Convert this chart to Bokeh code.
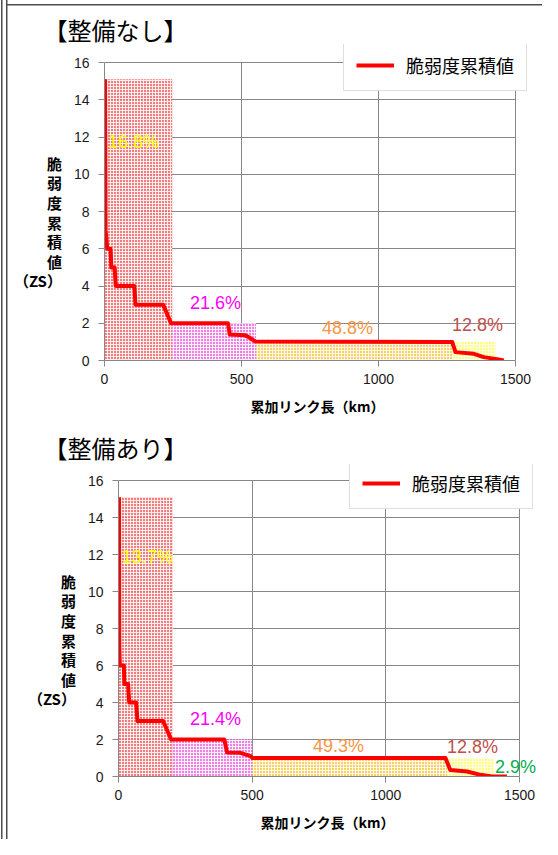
from bokeh.plotting import figure
from bokeh.models import (Range1d, Label, Legend, LegendItem, ColumnDataSource,
                          FixedTicker, Spacer, Grid)
from bokeh.layouts import column, row
from bokeh.embed import file_html
from bokeh.resources import INLINE

# ---------------- data ----------------
series_name = "脆弱度累積値"
x_title = "累加リンク長（km）"
y_title = " \n \n脆\n弱\n度\n累\n積\n値\n（ZS）"
x_ticks = [0, 500, 1000, 1500]
y_ticks = [0, 2, 4, 6, 8, 10, 12, 14, 16]

# chart 1: 整備なし
title1 = "【整備なし】"
km1 = [2, 4, 10, 22, 25, 37, 41, 109, 113, 214, 243, 451, 457, 514, 527, 551,
       1269, 1281, 1348, 1384, 1433, 1457]
zs1 = [15.1, 7.0, 6.0, 6.0, 5.0, 5.0, 4.0, 4.0, 3.0, 3.0, 2.0, 2.0, 1.4, 1.35,
       1.25, 1.02, 1.0, 0.45, 0.36, 0.18, 0.07, 0.0]
band_left1 = [0, 247, 553, 1269]
band_right1 = [247, 553, 1269, 1427]
band_top1 = [15.1, 2.0, 1.0, 1.0]
pct_text1 = ["16.8%", "21.6%", "48.8%", "12.8%"]
pct_x1 = [106, 405, 887, 1361]
pct_y1 = [11.72, 3.08, 1.72, 1.88]

# chart 2: 整備あり
title2 = "【整備あり】"
km2 = [2, 3, 5, 20, 22, 36, 40, 66, 71, 167, 197, 396, 406, 456, 494, 501,
       1223, 1241, 1304, 1354, 1397, 1453]
zs2 = [15.1, 7.0, 6.0, 6.0, 5.0, 5.0, 4.0, 4.0, 3.0, 3.0, 2.0, 2.0, 1.3, 1.28,
       1.1, 1.0, 1.0, 0.35, 0.27, 0.09, 0.0, 0.0]
band_left2 = [0, 203, 500, 1229]
band_right2 = [203, 500, 1229, 1403]
band_top2 = [15.1, 2.0, 1.0, 0.97]
pct_text2 = ["13.7%", "21.4%", "49.3%", "12.8%", "2.9%"]
pct_x2 = [108, 363, 823, 1324, 1485]
pct_y2 = [11.85, 3.12, 1.66, 1.57, 0.49]

# ---------------- styles ----------------
band_colors = ["#F46A6A", "#F070E2", "#F9C850", "#FFFF66"]
pct_colors = ["#FFFF00", "#FF00FF", "#F79646", "#C0504D", "#00B050"]
GRID = "#878787"
JP = "Noto Sans CJK JP"
NUM = "Liberation Sans"
X_MAX, Y_MAX = 1500, 16
FRAME_LINE = "#4d4d4d"


def make_chart(width, height, mb_left, mb_right, mb_top, mb_bottom,
               x_end, y_end, km, zs, bl, br, bt, pt, px, py, title,
               title_offset, title_standoff, legend_loc):
    p = figure(width=width, height=height,
               x_range=Range1d(0, x_end), y_range=Range1d(0, y_end),
               output_backend="svg", toolbar_location=None,
               min_border_left=mb_left, min_border_right=mb_right,
               min_border_top=mb_top, min_border_bottom=mb_bottom)
    p.background_fill_color = "white"
    p.border_fill_alpha = 0
    p.outline_line_color = None

    p.title.text = title
    p.title.text_font = JP
    p.title.text_font_size = "24px"
    p.title.text_font_style = "normal"
    p.title.text_color = "#000000"
    p.title.align = "left"
    p.title.offset = title_offset
    p.title.standoff = title_standoff

    p.xaxis.ticker = FixedTicker(ticks=x_ticks)
    p.yaxis.ticker = FixedTicker(ticks=y_ticks)
    p.xaxis.bounds = (0, X_MAX)
    p.yaxis.bounds = (0, Y_MAX)
    p.axis.axis_line_color = GRID
    p.axis.major_tick_line_color = GRID
    p.axis.major_tick_out = 6
    p.axis.major_tick_in = 0
    p.axis.minor_tick_line_color = None
    p.axis.major_label_text_font = NUM
    p.axis.major_label_text_font_size = "14px"
    p.axis.major_label_text_color = "#1a1a1a"
    p.yaxis.major_label_standoff = 9
    p.xaxis.major_label_standoff = 7

    p.xaxis.axis_label = x_title
    p.xaxis.axis_label_text_font = JP
    p.xaxis.axis_label_text_font_size = "14px"
    p.xaxis.axis_label_text_font_style = "bold"
    p.xaxis.axis_label_text_color = "#000000"
    p.xaxis.axis_label_standoff = 9

    p.yaxis.axis_label = y_title
    p.yaxis.axis_label_orientation = "horizontal"
    p.yaxis.axis_label_text_font = JP
    p.yaxis.axis_label_text_font_size = "15px"
    p.yaxis.axis_label_text_font_style = "bold"
    p.yaxis.axis_label_text_color = "#000000"
    p.yaxis.axis_label_text_line_height = 0.93
    p.yaxis.axis_label_standoff = 9

    # grid lines limited to the 0..1500 x 0..16 plot area
    xg, yg = p.xgrid[0], p.ygrid[0]
    if "cross_bounds" in Grid.properties():
        xg.cross_bounds = (0, Y_MAX)
        yg.cross_bounds = (0, X_MAX)
        p.grid.grid_line_color = GRID
        p.grid.grid_line_width = 1
    else:
        p.grid.grid_line_color = None
        p.segment(x0=x_ticks[1:], y0=0, x1=x_ticks[1:], y1=Y_MAX,
                  line_color=GRID, line_width=1, level="underlay")
        p.segment(x0=0, y0=y_ticks[1:], x1=X_MAX, y1=y_ticks[1:],
                  line_color=GRID, line_width=1, level="underlay")

    src = ColumnDataSource(dict(left=bl, right=br, top=bt,
                                color=band_colors[:len(bl)]))
    p.quad(left="left", right="right", bottom=0, top="top", source=src,
           fill_color="color", fill_alpha=0.88, line_color=None,
           hatch_pattern="+", hatch_color="white", hatch_alpha=0.85,
           hatch_scale=3, hatch_weight=1)

    r = p.line(km, zs, line_color="#FF0000", line_width=4, line_join="round")

    for t, x, y, c in zip(pt, px, py, pct_colors):
        p.add_layout(Label(x=x, y=y, text=t, text_color=c,
                           text_font=NUM, text_font_size="18px",
                           text_align="center", text_baseline="middle"))

    legend = Legend(items=[LegendItem(label=series_name, renderers=[r])],
                    location=legend_loc, label_text_font=JP,
                    label_text_font_size="18px", label_text_color="#000000",
                    border_line_color="#BFBFBF", border_line_width=1,
                    padding=12, spacing=0, margin=0, glyph_width=38,
                    glyph_height=22, label_height=22, label_standoff=12,
                    background_fill_color="white", background_fill_alpha=1)
    p.add_layout(legend)
    return p


# chart 1: figure at page (0,0); plot area x 104..515 (0..1500), y 62..360 (16..0)
# frame extends to x 530, y 44 so that the legend fits inside it
p1 = make_chart(536, 420, 104, 6, 44, 60,
                1500 * 426 / 411, 16 * 316 / 298,
                km1, zs1, band_left1, band_right1, band_top1,
                pct_text1, pct_x1, pct_y1, title1, -61, -5, (239, 269))

# chart 2: figure at page (14,420); plot area x 118..519, y 480..776
p2 = make_chart(528, 419, 104, 6, 44, 63,
                1500 * 418 / 401, 16 * 312 / 296,
                km2, zs2, band_left2, band_right2, band_top2,
                pct_text2, pct_x2, pct_y2, title2, -75, -1, (231, 267))

# sheet frame: double line on the left edge, single line along the top
frame_bg = ("linear-gradient(%s, %s) 6px 4px / 100%% 1.5px no-repeat, "
            "linear-gradient(%s, %s) 0.5px 0 / 1.5px 100%% no-repeat, "
            "linear-gradient(%s, %s) 5.5px 0 / 1.5px 100%% no-repeat, white"
            % ((FRAME_LINE,) * 6))

layout = column(p1, row(Spacer(width=14, height=419), p2, spacing=0),
                spacing=0, styles={"background": frame_bg})
open("out.html", "w").write(file_html(layout, INLINE))
